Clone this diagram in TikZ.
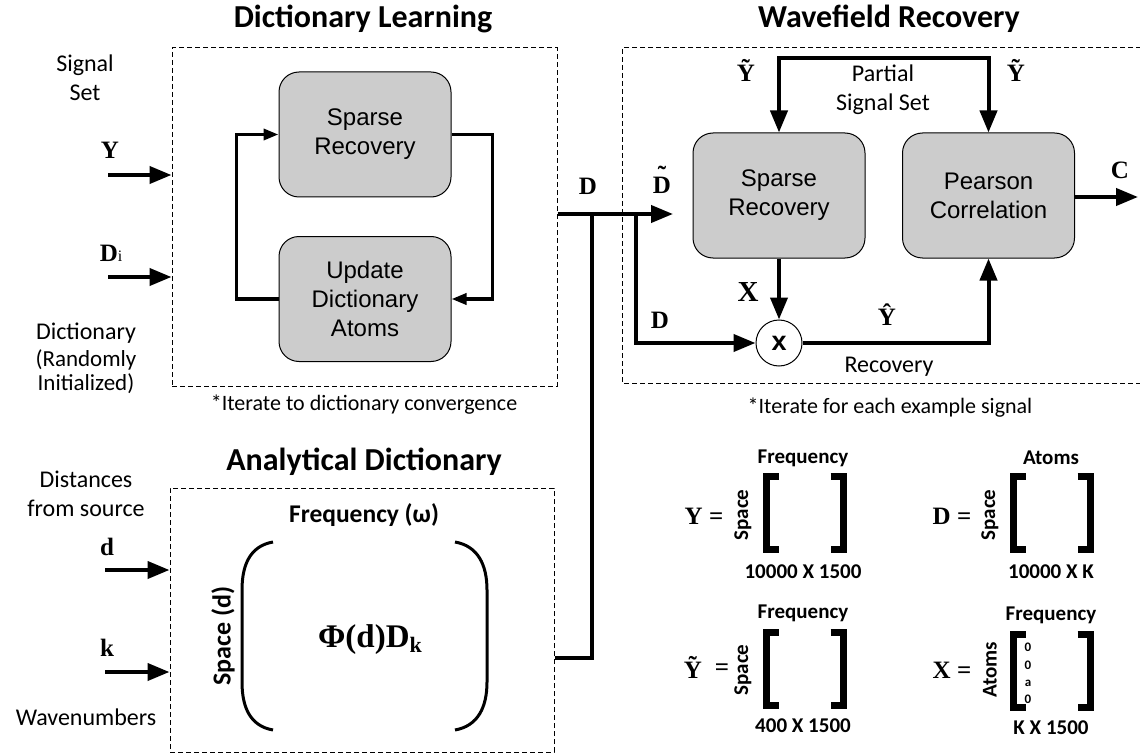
\documentclass[tikz,border=0pt]{standalone}
\usepackage{fontspec}
\setmainfont{Carlito}
\newfontfamily\arialf{Liberation Sans}
\newfontfamily\timesf{Liberation Serif}
\usetikzlibrary{arrows.meta}
\newcommand{\fsz}[2]{\fontsize{#1}{#2}\selectfont}
\newcommand{\tildeD}{\makebox[0pt][l]{\hspace{5pt}\raisebox{10pt}{˜}}D}

\begin{document}
\begin{tikzpicture}[x=1pt,y=-1pt,>={Triangle[length=22pt,width=17pt]},
  area/.style={draw,dash pattern=on 5pt off 3pt,line width=1pt},
  proc/.style={draw,line width=1pt,fill=gray!40,rounded corners=20pt,minimum width=172pt,minimum height=125pt,align=center,font=\arialf\fsz{24}{29}},
  wire/.style={line width=4pt},
  loopwire/.style={line width=3.5pt,>={Triangle[length=15pt,width=11pt]}},
  lbl/.style={font=\timesf\bfseries\fsz{25}{25}},
  side/.style={font=\fsz{24}{29},align=center},
  head/.style={font=\bfseries\fsz{32}{32}},
  note/.style={font=\fsz{22}{22}},
  mlbl/.style={font=\bfseries\fsz{21}{21}},
  brk/.style={line width=7pt}]
\useasboundingbox (0,0) rectangle (1140,754);

% Dictionary Learning
\node[head] (dlhead) at (363,19) {Dictionary Learning};
\node[area,minimum width=385pt,minimum height=338pt] (dlbox) at (364.5,217) {};
\node[proc] (dlsr) at (365,134.5) {Sparse\\Recovery};
\node[proc] (dlupd) at (365,299) {Update\\Dictionary\\Atoms};
\draw[loopwire,->] (dlupd.west) -- ++(-42,0) |- (dlsr.west);
\draw[loopwire,->] (dlsr.east) -- ++(41,0) |- (dlupd.east);

\node[side] (sigset) at (85,78) {Signal\\Set};
\node[lbl] (ylbl) at (110,150) {Y};
\coordinate (yin) at (108,175);
\draw[wire,->] (yin) -- (yin -| dlbox.west);
\node[lbl] (dilbl) at (111,253) {D{\fsz{16}{16}\mdseries i}};
\coordinate (diin) at (108,277);
\draw[wire,->] (diin) -- (diin -| dlbox.west);
\node[side] (dictl) at (86,333) {Dictionary};
\node[side,font=\fsz{23}{24}] (randl) at (86,372) {(Randomly\\Initialized)};
\node[note] (dlnote) at (364,405) {*Iterate to dictionary convergence};

% Wavefield Recovery
\node[head] (wrhead) at (889,19) {Wavefield Recovery};
\draw[area] (1141,48) -- (622,48) -- (622,383) -- (1141,383);
\node[proc] (wrsr) at (779,195.5) {Sparse\\Recovery};
\node[proc] (pc) at (988.5,195.5) {Pearson\\Correlation};
\node[draw,circle,line width=1pt,minimum size=46pt,inner sep=0pt,font=\arialf\bfseries\fsz{27}{27}] (mult) at (779,343) {x};
\coordinate (ptop) at (885,58);
\draw[wire,<->] (wrsr.north) |- (ptop) -| (pc.north);
\node[lbl] (yt1) at (746,70) {Ỹ};
\node[lbl] (yt2) at (1016,70) {Ỹ};
\node[side] (partial) at (883,90) {Partial\\Signal Set};
\coordinate (cout) at (1138,197);
\draw[wire,->] (pc.east |- cout) -- (cout);
\node[lbl] (clbl) at (1120,170) {C};

\node[lbl] (dlbl) at (588,186) {D};
\node[lbl] (dtl) at (662,180) {\tildeD};
\coordinate (dtip) at (673,214);
\draw[wire,->] (dlbox.east |- dtip) -- (dtip);
\coordinate (split) at (636,214);
\draw[wire,->] (split) |- (mult.west);
\node[lbl] (dlbl2) at (660,320) {D};
\draw[wire,->] (wrsr.south) -- (mult.north);
\node[lbl,font=\timesf\bfseries\fsz{29}{29}] (xlbl) at (748,292) {X};
\draw[wire,->] (mult.east) -| (pc.south);
\node[lbl] (yhat) at (887,315) {Ŷ};
\node[side] (recov) at (889,367) {Recovery};
\node[note] (wrnote) at (890,408) {*Iterate for each example signal};

% Analytical Dictionary
\node[head] (adhead) at (364,462) {Analytical Dictionary};
\node[area,minimum width=384pt,minimum height=264pt] (adbox) at (362,620) {};
\coordinate (join) at (592,214);
\draw[wire] (adbox.east |- 0,658) -| (join);
\node[side] (dist) at (86,494) {Distances\\from source};
\node[lbl] (dlblb) at (107,547) {d};
\coordinate (din) at (105,570);
\draw[wire,->] (din) -- (din -| adbox.west);
\node[lbl] (klbl) at (107,648) {k};
\coordinate (kin) at (105,672);
\draw[wire,->] (kin) -- (kin -| adbox.west);
\node[side] (wavel) at (86,717) {Wavenumbers};
\node[mlbl,font=\bfseries\fsz{25.5}{25.5}] (freqw) at (364,515) {Frequency (ω)};
\node[mlbl,font=\bfseries\fsz{26}{26},rotate=90] (spd) at (223,636) {Space (d)};
\draw[line width=3pt] (273,542) .. controls (250,546) and (242,565) .. (242,590) -- (242,682) .. controls (242,707) and (250,726) .. (273,730);
\draw[line width=3pt] (455,542) .. controls (478,546) and (487,565) .. (487,590) -- (487,682) .. controls (487,707) and (478,726) .. (455,730);
\node[lbl,font=\timesf\bfseries\fsz{33}{33}] (phi) at (370,640) {Φ(d)D{\fsz{22}{22}\raisebox{-5pt}{k}}};

% matrix sizes
\foreach \cx/\cy in {804.5/513,1051.5/513,804.5/669,1051.5/670.5}{
  \draw[brk] (\cx-26,\cy-36.5) -- (\cx-38.5,\cy-36.5) -- (\cx-38.5,\cy+36.5) -- (\cx-26,\cy+36.5);
  \draw[brk] (\cx+26,\cy-36.5) -- (\cx+38.5,\cy-36.5) -- (\cx+38.5,\cy+36.5) -- (\cx+26,\cy+36.5);
}
\node[lbl] (ymat) at (704,516) {Y =};
\node[mlbl,rotate=90] (ysp) at (743,515) {Space};
\node[mlbl] (yfr) at (803,458) {Frequency};
\node[mlbl] (ysz) at (803,572) {10000 X 1500};
\node[lbl] (dmat) at (952,516) {D =};
\node[mlbl,rotate=90] (dsp) at (990,515) {Space};
\node[mlbl] (dat) at (1051,458) {Atoms};
\node[mlbl] (dsz) at (1051,572) {10000 X K};
\node[lbl] (ytmat) at (693,667) {Ỹ};
\node[lbl] (yteq) at (722,670) {=};
\node[mlbl,rotate=90] (ytsp) at (743,670) {Space};
\node[mlbl] (ytfr) at (803,613) {Frequency};
\node[mlbl] (ytsz) at (803,726) {400 X 1500};
\node[lbl] (xmat) at (952,670) {X =};
\node[mlbl,rotate=90] (xat) at (990,670) {Atoms};
\node[mlbl] (xfr) at (1051,615) {Frequency};
\node[mlbl] (xsz) at (1051,728) {K X 1500};
\foreach \v/\ey [count=\i] in {0/647,0/665,a/683,0/699}
  \node[font=\bfseries\fsz{13}{13},inner sep=0pt] (xel\i) at (1028,\ey) {\v};
\end{tikzpicture}
\end{document}
